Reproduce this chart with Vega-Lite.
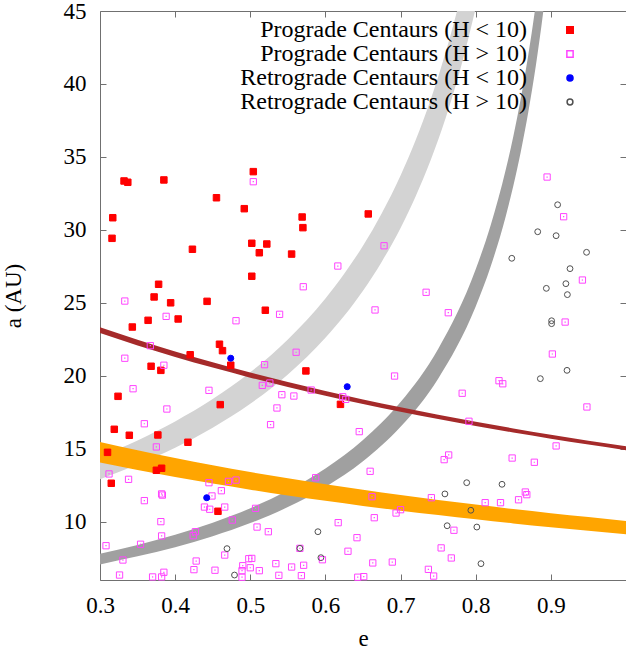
{
  "$schema": "https://vega.github.io/schema/vega-lite/v6.json",
  "autosize": {"type": "none"},
  "width": 526,
  "height": 569,
  "padding": {"left": 100, "top": 11, "right": 0, "bottom": 70},
  "background": "white",
  "config": {
    "view": {"stroke": "#707070", "strokeWidth": 1},
    "font": "Liberation Serif",
    "axis": {
      "labelFont": "Liberation Serif",
      "labelFontSize": 23,
      "labelColor": "black",
      "titleFont": "Liberation Serif",
      "titleFontSize": 23,
      "titleFontWeight": "normal",
      "titleColor": "black",
      "grid": false,
      "domain": false,
      "tickColor": "#707070",
      "tickSize": -6,
      "labelFlush": false
    },
    "legend": {
      "labelFont": "Liberation Serif",
      "labelFontSize": 24,
      "labelColor": "black",
      "labelLimit": 500
    }
  },
  "datasets": {
    "saturn": [
      {"e": 0.3, "lo": 12.91, "hi": 14.46},
      {"e": 0.35, "lo": 13.91, "hi": 15.57},
      {"e": 0.4, "lo": 15.07, "hi": 16.87},
      {"e": 0.45, "lo": 16.44, "hi": 18.4},
      {"e": 0.5, "lo": 18.08, "hi": 20.24},
      {"e": 0.55, "lo": 20.09, "hi": 22.49},
      {"e": 0.6, "lo": 22.6, "hi": 25.3},
      {"e": 0.625, "lo": 24.11, "hi": 26.99},
      {"e": 0.65, "lo": 25.83, "hi": 28.91},
      {"e": 0.675, "lo": 27.82, "hi": 31.14},
      {"e": 0.7, "lo": 30.13, "hi": 33.73},
      {"e": 0.72, "lo": 32.29, "hi": 36.14},
      {"e": 0.74, "lo": 34.77, "hi": 38.92},
      {"e": 0.76, "lo": 37.67, "hi": 42.17},
      {"e": 0.78, "lo": 41.09, "hi": 46.0},
      {"e": 0.8, "lo": 45.2, "hi": 50.6}
    ],
    "jupiter": [
      {"e": 0.3, "lo": 7.07, "hi": 7.8},
      {"e": 0.35, "lo": 7.62, "hi": 8.4},
      {"e": 0.4, "lo": 8.25, "hi": 9.1},
      {"e": 0.45, "lo": 9.0, "hi": 9.93},
      {"e": 0.5, "lo": 9.9, "hi": 10.92},
      {"e": 0.55, "lo": 11.0, "hi": 12.13},
      {"e": 0.6, "lo": 12.38, "hi": 13.65},
      {"e": 0.65, "lo": 14.14, "hi": 15.6},
      {"e": 0.7, "lo": 16.5, "hi": 18.2},
      {"e": 0.75, "lo": 19.8, "hi": 21.84},
      {"e": 0.8, "lo": 24.75, "hi": 27.3},
      {"e": 0.82, "lo": 27.5, "hi": 30.33},
      {"e": 0.84, "lo": 30.94, "hi": 34.13},
      {"e": 0.85, "lo": 33.0, "hi": 36.4},
      {"e": 0.86, "lo": 35.36, "hi": 39.0},
      {"e": 0.87, "lo": 38.08, "hi": 42.0},
      {"e": 0.88, "lo": 41.25, "hi": 45.5},
      {"e": 0.89, "lo": 45.0, "hi": 49.64},
      {"e": 0.9, "lo": 49.5, "hi": 54.6}
    ],
    "uranus": [
      {"e": 0.3, "lo": 14.06, "hi": 15.46},
      {"e": 0.35, "lo": 13.54, "hi": 14.89},
      {"e": 0.4, "lo": 13.06, "hi": 14.36},
      {"e": 0.45, "lo": 12.61, "hi": 13.86},
      {"e": 0.5, "lo": 12.19, "hi": 13.4},
      {"e": 0.55, "lo": 11.79, "hi": 12.97},
      {"e": 0.6, "lo": 11.43, "hi": 12.56},
      {"e": 0.65, "lo": 11.08, "hi": 12.18},
      {"e": 0.7, "lo": 10.75, "hi": 11.82},
      {"e": 0.75, "lo": 10.45, "hi": 11.49},
      {"e": 0.8, "lo": 10.16, "hi": 11.17},
      {"e": 0.85, "lo": 9.88, "hi": 10.86},
      {"e": 0.9, "lo": 9.62, "hi": 10.58},
      {"e": 0.95, "lo": 9.37, "hi": 10.31},
      {"e": 1.0, "lo": 9.14, "hi": 10.05}
    ],
    "neptune": [
      {"e": 0.3, "lo": 22.93, "hi": 23.33},
      {"e": 0.35, "lo": 22.08, "hi": 22.47},
      {"e": 0.4, "lo": 21.29, "hi": 21.66},
      {"e": 0.45, "lo": 20.56, "hi": 20.92},
      {"e": 0.5, "lo": 19.87, "hi": 20.22},
      {"e": 0.55, "lo": 19.23, "hi": 19.57},
      {"e": 0.6, "lo": 18.63, "hi": 18.96},
      {"e": 0.65, "lo": 18.07, "hi": 18.38},
      {"e": 0.7, "lo": 17.54, "hi": 17.84},
      {"e": 0.75, "lo": 17.03, "hi": 17.33},
      {"e": 0.8, "lo": 16.56, "hi": 16.85},
      {"e": 0.85, "lo": 16.11, "hi": 16.39},
      {"e": 0.9, "lo": 15.69, "hi": 15.96},
      {"e": 0.95, "lo": 15.29, "hi": 15.55},
      {"e": 1.0, "lo": 14.9, "hi": 15.17}
    ],
    "points": [
      {"g": "Prograde Centaurs (H < 10)", "e": 0.332, "a": 33.35},
      {"g": "Prograde Centaurs (H < 10)", "e": 0.337, "a": 33.26},
      {"g": "Prograde Centaurs (H < 10)", "e": 0.385, "a": 33.42},
      {"g": "Prograde Centaurs (H < 10)", "e": 0.504, "a": 33.99},
      {"g": "Prograde Centaurs (H < 10)", "e": 0.455, "a": 32.2},
      {"g": "Prograde Centaurs (H < 10)", "e": 0.492, "a": 31.45},
      {"g": "Prograde Centaurs (H < 10)", "e": 0.317, "a": 30.83},
      {"g": "Prograde Centaurs (H < 10)", "e": 0.316, "a": 29.42},
      {"g": "Prograde Centaurs (H < 10)", "e": 0.569, "a": 30.88},
      {"g": "Prograde Centaurs (H < 10)", "e": 0.570, "a": 30.15},
      {"g": "Prograde Centaurs (H < 10)", "e": 0.423, "a": 28.67},
      {"g": "Prograde Centaurs (H < 10)", "e": 0.502, "a": 29.08},
      {"g": "Prograde Centaurs (H < 10)", "e": 0.522, "a": 29.03},
      {"g": "Prograde Centaurs (H < 10)", "e": 0.512, "a": 28.43},
      {"g": "Prograde Centaurs (H < 10)", "e": 0.555, "a": 28.34},
      {"g": "Prograde Centaurs (H < 10)", "e": 0.502, "a": 26.82},
      {"g": "Prograde Centaurs (H < 10)", "e": 0.378, "a": 26.27},
      {"g": "Prograde Centaurs (H < 10)", "e": 0.372, "a": 25.4},
      {"g": "Prograde Centaurs (H < 10)", "e": 0.4425, "a": 25.1},
      {"g": "Prograde Centaurs (H < 10)", "e": 0.657, "a": 31.09},
      {"g": "Prograde Centaurs (H < 10)", "e": 0.394, "a": 25.0},
      {"g": "Prograde Centaurs (H < 10)", "e": 0.520, "a": 24.49},
      {"g": "Prograde Centaurs (H < 10)", "e": 0.343, "a": 23.34},
      {"g": "Prograde Centaurs (H < 10)", "e": 0.364, "a": 23.8},
      {"g": "Prograde Centaurs (H < 10)", "e": 0.404, "a": 23.89},
      {"g": "Prograde Centaurs (H < 10)", "e": 0.459, "a": 22.16},
      {"g": "Prograde Centaurs (H < 10)", "e": 0.463, "a": 21.72},
      {"g": "Prograde Centaurs (H < 10)", "e": 0.420, "a": 21.44},
      {"g": "Prograde Centaurs (H < 10)", "e": 0.474, "a": 20.72},
      {"g": "Prograde Centaurs (H < 10)", "e": 0.368, "a": 20.65},
      {"g": "Prograde Centaurs (H < 10)", "e": 0.381, "a": 20.37},
      {"g": "Prograde Centaurs (H < 10)", "e": 0.574, "a": 20.33},
      {"g": "Prograde Centaurs (H < 10)", "e": 0.324, "a": 18.59},
      {"g": "Prograde Centaurs (H < 10)", "e": 0.460, "a": 18.02},
      {"g": "Prograde Centaurs (H < 10)", "e": 0.319, "a": 16.33},
      {"g": "Prograde Centaurs (H < 10)", "e": 0.339, "a": 15.92},
      {"g": "Prograde Centaurs (H < 10)", "e": 0.377, "a": 15.94},
      {"g": "Prograde Centaurs (H < 10)", "e": 0.417, "a": 15.44},
      {"g": "Prograde Centaurs (H < 10)", "e": 0.310, "a": 14.75},
      {"g": "Prograde Centaurs (H < 10)", "e": 0.375, "a": 13.52},
      {"g": "Prograde Centaurs (H < 10)", "e": 0.382, "a": 13.66},
      {"g": "Prograde Centaurs (H < 10)", "e": 0.315, "a": 12.63},
      {"g": "Prograde Centaurs (H < 10)", "e": 0.457, "a": 10.71},
      {"g": "Prograde Centaurs (H < 10)", "e": 0.620, "a": 18.04},
      {"g": "Prograde Centaurs (H > 10)", "e": 0.504, "a": 33.3},
      {"g": "Prograde Centaurs (H > 10)", "e": 0.5705, "a": 26.1},
      {"g": "Prograde Centaurs (H > 10)", "e": 0.333, "a": 25.12},
      {"g": "Prograde Centaurs (H > 10)", "e": 0.895, "a": 33.62},
      {"g": "Prograde Centaurs (H > 10)", "e": 0.917, "a": 30.9},
      {"g": "Prograde Centaurs (H > 10)", "e": 0.678, "a": 28.91},
      {"g": "Prograde Centaurs (H > 10)", "e": 0.6165, "a": 27.52},
      {"g": "Prograde Centaurs (H > 10)", "e": 0.734, "a": 25.72},
      {"g": "Prograde Centaurs (H > 10)", "e": 0.942, "a": 26.56},
      {"g": "Prograde Centaurs (H > 10)", "e": 0.539, "a": 24.21},
      {"g": "Prograde Centaurs (H > 10)", "e": 0.481, "a": 23.77},
      {"g": "Prograde Centaurs (H > 10)", "e": 0.388, "a": 24.07},
      {"g": "Prograde Centaurs (H > 10)", "e": 0.367, "a": 22.06},
      {"g": "Prograde Centaurs (H > 10)", "e": 0.333, "a": 21.2},
      {"g": "Prograde Centaurs (H > 10)", "e": 0.385, "a": 20.72},
      {"g": "Prograde Centaurs (H > 10)", "e": 0.519, "a": 20.76},
      {"g": "Prograde Centaurs (H > 10)", "e": 0.516, "a": 19.34},
      {"g": "Prograde Centaurs (H > 10)", "e": 0.526, "a": 19.5},
      {"g": "Prograde Centaurs (H > 10)", "e": 0.561, "a": 21.61},
      {"g": "Prograde Centaurs (H > 10)", "e": 0.581, "a": 19.02},
      {"g": "Prograde Centaurs (H > 10)", "e": 0.445, "a": 19.0},
      {"g": "Prograde Centaurs (H > 10)", "e": 0.344, "a": 19.11},
      {"g": "Prograde Centaurs (H > 10)", "e": 0.542, "a": 18.7},
      {"g": "Prograde Centaurs (H > 10)", "e": 0.558, "a": 18.61},
      {"g": "Prograde Centaurs (H > 10)", "e": 0.5355, "a": 17.79},
      {"g": "Prograde Centaurs (H > 10)", "e": 0.389, "a": 17.72},
      {"g": "Prograde Centaurs (H > 10)", "e": 0.527, "a": 16.65},
      {"g": "Prograde Centaurs (H > 10)", "e": 0.359, "a": 16.71},
      {"g": "Prograde Centaurs (H > 10)", "e": 0.375, "a": 15.12},
      {"g": "Prograde Centaurs (H > 10)", "e": 0.312, "a": 13.27},
      {"g": "Prograde Centaurs (H > 10)", "e": 0.338, "a": 12.9},
      {"g": "Prograde Centaurs (H > 10)", "e": 0.445, "a": 12.67},
      {"g": "Prograde Centaurs (H > 10)", "e": 0.471, "a": 12.76},
      {"g": "Prograde Centaurs (H > 10)", "e": 0.481, "a": 12.85},
      {"g": "Prograde Centaurs (H > 10)", "e": 0.4615, "a": 12.12},
      {"g": "Prograde Centaurs (H > 10)", "e": 0.587, "a": 13.01},
      {"g": "Prograde Centaurs (H > 10)", "e": 0.449, "a": 11.76},
      {"g": "Prograde Centaurs (H > 10)", "e": 0.382, "a": 11.9},
      {"g": "Prograde Centaurs (H > 10)", "e": 0.383, "a": 11.82},
      {"g": "Prograde Centaurs (H > 10)", "e": 0.359, "a": 11.44},
      {"g": "Prograde Centaurs (H > 10)", "e": 0.439, "a": 11.0},
      {"g": "Prograde Centaurs (H > 10)", "e": 0.446, "a": 10.85},
      {"g": "Prograde Centaurs (H > 10)", "e": 0.466, "a": 11.0},
      {"g": "Prograde Centaurs (H > 10)", "e": 0.507, "a": 10.91},
      {"g": "Prograde Centaurs (H > 10)", "e": 0.381, "a": 10.0},
      {"g": "Prograde Centaurs (H > 10)", "e": 0.476, "a": 10.11},
      {"g": "Prograde Centaurs (H > 10)", "e": 0.427, "a": 9.31},
      {"g": "Prograde Centaurs (H > 10)", "e": 0.424, "a": 9.04},
      {"g": "Prograde Centaurs (H > 10)", "e": 0.382, "a": 9.02},
      {"g": "Prograde Centaurs (H > 10)", "e": 0.509, "a": 9.63},
      {"g": "Prograde Centaurs (H > 10)", "e": 0.524, "a": 9.31},
      {"g": "Prograde Centaurs (H > 10)", "e": 0.308, "a": 8.35},
      {"g": "Prograde Centaurs (H > 10)", "e": 0.354, "a": 8.45},
      {"g": "Prograde Centaurs (H > 10)", "e": 0.466, "a": 7.71},
      {"g": "Prograde Centaurs (H > 10)", "e": 0.3305, "a": 7.37},
      {"g": "Prograde Centaurs (H > 10)", "e": 0.428, "a": 7.3},
      {"g": "Prograde Centaurs (H > 10)", "e": 0.498, "a": 7.46},
      {"g": "Prograde Centaurs (H > 10)", "e": 0.502, "a": 7.48},
      {"g": "Prograde Centaurs (H > 10)", "e": 0.490, "a": 6.98},
      {"g": "Prograde Centaurs (H > 10)", "e": 0.500, "a": 6.84},
      {"g": "Prograde Centaurs (H > 10)", "e": 0.571, "a": 7.01},
      {"g": "Prograde Centaurs (H > 10)", "e": 0.534, "a": 7.12},
      {"g": "Prograde Centaurs (H > 10)", "e": 0.555, "a": 6.89},
      {"g": "Prograde Centaurs (H > 10)", "e": 0.425, "a": 6.71},
      {"g": "Prograde Centaurs (H > 10)", "e": 0.453, "a": 6.67},
      {"g": "Prograde Centaurs (H > 10)", "e": 0.489, "a": 6.64},
      {"g": "Prograde Centaurs (H > 10)", "e": 0.512, "a": 6.64},
      {"g": "Prograde Centaurs (H > 10)", "e": 0.326, "a": 6.34},
      {"g": "Prograde Centaurs (H > 10)", "e": 0.370, "a": 6.21},
      {"g": "Prograde Centaurs (H > 10)", "e": 0.382, "a": 6.21},
      {"g": "Prograde Centaurs (H > 10)", "e": 0.385, "a": 6.53},
      {"g": "Prograde Centaurs (H > 10)", "e": 0.489, "a": 6.19},
      {"g": "Prograde Centaurs (H > 10)", "e": 0.538, "a": 6.32},
      {"g": "Prograde Centaurs (H > 10)", "e": 0.568, "a": 6.3},
      {"g": "Prograde Centaurs (H > 10)", "e": 0.566, "a": 8.17},
      {"g": "Prograde Centaurs (H > 10)", "e": 0.666, "a": 24.51},
      {"g": "Prograde Centaurs (H > 10)", "e": 0.7635, "a": 24.32},
      {"g": "Prograde Centaurs (H > 10)", "e": 0.919, "a": 23.68},
      {"g": "Prograde Centaurs (H > 10)", "e": 0.902, "a": 21.49},
      {"g": "Prograde Centaurs (H > 10)", "e": 0.692, "a": 19.98},
      {"g": "Prograde Centaurs (H > 10)", "e": 0.831, "a": 19.66},
      {"g": "Prograde Centaurs (H > 10)", "e": 0.836, "a": 19.45},
      {"g": "Prograde Centaurs (H > 10)", "e": 0.782, "a": 18.8},
      {"g": "Prograde Centaurs (H > 10)", "e": 0.623, "a": 18.56},
      {"g": "Prograde Centaurs (H > 10)", "e": 0.627, "a": 18.38},
      {"g": "Prograde Centaurs (H > 10)", "e": 0.791, "a": 16.88},
      {"g": "Prograde Centaurs (H > 10)", "e": 0.948, "a": 17.86},
      {"g": "Prograde Centaurs (H > 10)", "e": 0.645, "a": 16.17},
      {"g": "Prograde Centaurs (H > 10)", "e": 0.907, "a": 15.19},
      {"g": "Prograde Centaurs (H > 10)", "e": 0.764, "a": 14.57},
      {"g": "Prograde Centaurs (H > 10)", "e": 0.758, "a": 14.25},
      {"g": "Prograde Centaurs (H > 10)", "e": 0.8485, "a": 14.36},
      {"g": "Prograde Centaurs (H > 10)", "e": 0.878, "a": 14.07},
      {"g": "Prograde Centaurs (H > 10)", "e": 0.6595, "a": 13.45},
      {"g": "Prograde Centaurs (H > 10)", "e": 0.662, "a": 11.71},
      {"g": "Prograde Centaurs (H > 10)", "e": 0.741, "a": 11.64},
      {"g": "Prograde Centaurs (H > 10)", "e": 0.866, "a": 12.03},
      {"g": "Prograde Centaurs (H > 10)", "e": 0.868, "a": 11.85},
      {"g": "Prograde Centaurs (H > 10)", "e": 0.857, "a": 11.5},
      {"g": "Prograde Centaurs (H > 10)", "e": 0.8126, "a": 11.3},
      {"g": "Prograde Centaurs (H > 10)", "e": 0.833, "a": 11.3},
      {"g": "Prograde Centaurs (H > 10)", "e": 0.700, "a": 10.82},
      {"g": "Prograde Centaurs (H > 10)", "e": 0.694, "a": 10.59},
      {"g": "Prograde Centaurs (H > 10)", "e": 0.665, "a": 10.27},
      {"g": "Prograde Centaurs (H > 10)", "e": 0.617, "a": 9.93},
      {"g": "Prograde Centaurs (H > 10)", "e": 0.771, "a": 9.41},
      {"g": "Prograde Centaurs (H > 10)", "e": 0.642, "a": 8.9},
      {"g": "Prograde Centaurs (H > 10)", "e": 0.754, "a": 8.2},
      {"g": "Prograde Centaurs (H > 10)", "e": 0.630, "a": 7.97},
      {"g": "Prograde Centaurs (H > 10)", "e": 0.7675, "a": 7.51},
      {"g": "Prograde Centaurs (H > 10)", "e": 0.596, "a": 7.39},
      {"g": "Prograde Centaurs (H > 10)", "e": 0.663, "a": 7.17},
      {"g": "Prograde Centaurs (H > 10)", "e": 0.689, "a": 7.23},
      {"g": "Prograde Centaurs (H > 10)", "e": 0.737, "a": 6.73},
      {"g": "Prograde Centaurs (H > 10)", "e": 0.744, "a": 6.27},
      {"g": "Prograde Centaurs (H > 10)", "e": 0.643, "a": 6.19},
      {"g": "Prograde Centaurs (H > 10)", "e": 0.651, "a": 6.23},
      {"g": "Retrograde Centaurs (H < 10)", "e": 0.474, "a": 21.2},
      {"g": "Retrograde Centaurs (H < 10)", "e": 0.442, "a": 11.64},
      {"g": "Retrograde Centaurs (H < 10)", "e": 0.629, "a": 19.25},
      {"g": "Retrograde Centaurs (H > 10)", "e": 0.909, "a": 31.72},
      {"g": "Retrograde Centaurs (H > 10)", "e": 0.8825, "a": 29.87},
      {"g": "Retrograde Centaurs (H > 10)", "e": 0.907, "a": 29.6},
      {"g": "Retrograde Centaurs (H > 10)", "e": 0.9475, "a": 28.46},
      {"g": "Retrograde Centaurs (H > 10)", "e": 0.848, "a": 28.05},
      {"g": "Retrograde Centaurs (H > 10)", "e": 0.9255, "a": 27.34},
      {"g": "Retrograde Centaurs (H > 10)", "e": 0.894, "a": 25.99},
      {"g": "Retrograde Centaurs (H > 10)", "e": 0.920, "a": 26.31},
      {"g": "Retrograde Centaurs (H > 10)", "e": 0.922, "a": 25.56},
      {"g": "Retrograde Centaurs (H > 10)", "e": 0.469, "a": 8.15},
      {"g": "Retrograde Centaurs (H > 10)", "e": 0.479, "a": 6.34},
      {"g": "Retrograde Centaurs (H > 10)", "e": 0.590, "a": 9.31},
      {"g": "Retrograde Centaurs (H > 10)", "e": 0.566, "a": 8.17},
      {"g": "Retrograde Centaurs (H > 10)", "e": 0.901, "a": 23.77},
      {"g": "Retrograde Centaurs (H > 10)", "e": 0.901, "a": 23.57},
      {"g": "Retrograde Centaurs (H > 10)", "e": 0.9215, "a": 20.37},
      {"g": "Retrograde Centaurs (H > 10)", "e": 0.886, "a": 19.8},
      {"g": "Retrograde Centaurs (H > 10)", "e": 0.788, "a": 12.67},
      {"g": "Retrograde Centaurs (H > 10)", "e": 0.835, "a": 12.56},
      {"g": "Retrograde Centaurs (H > 10)", "e": 0.759, "a": 11.9},
      {"g": "Retrograde Centaurs (H > 10)", "e": 0.7935, "a": 10.78},
      {"g": "Retrograde Centaurs (H > 10)", "e": 0.762, "a": 9.72},
      {"g": "Retrograde Centaurs (H > 10)", "e": 0.8015, "a": 9.63},
      {"g": "Retrograde Centaurs (H > 10)", "e": 0.594, "a": 7.53},
      {"g": "Retrograde Centaurs (H > 10)", "e": 0.807, "a": 7.12}
    ]
  },
  "layer": [
    {
      "data": {"name": "saturn"},
      "mark": {"type": "area", "color": "#d3d3d3", "clip": true, "interpolate": "monotone"},
      "encoding": {
        "x": {"field": "e", "type": "quantitative",
              "scale": {"domain": [0.3, 1.0], "nice": false, "zero": false},
              "axis": {"orient": "bottom", "values": [0.3, 0.4, 0.5, 0.6, 0.7, 0.8, 0.9], "format": ".1f", "title": "e",
                       "labelFont": "Liberation Serif", "labelFontSize": 23, "labelColor": "black",
                       "labelFlush": false, "labelPadding": 20, "titlePadding": 10}},
        "y": {"field": "lo", "type": "quantitative",
              "scale": {"domain": [6, 45], "nice": false, "zero": false},
              "axis": {"orient": "left", "values": [10, 15, 20, 25, 30, 35, 40, 45], "title": "a (AU)",
                       "labelFont": "Liberation Serif", "labelFontSize": 23, "labelColor": "black",
                       "labelFlush": false, "labelPadding": 20, "titlePadding": 38}},
        "y2": {"field": "hi"}
      }
    },
    {
      "data": {"name": "jupiter"},
      "mark": {"type": "area", "color": "#a0a0a0", "clip": true, "interpolate": "monotone"},
      "encoding": {
        "x": {"field": "e", "type": "quantitative",
              "axis": {"orient": "top", "values": [0.4, 0.5, 0.6, 0.7, 0.8, 0.9], "labels": false, "title": null}},
        "y": {"field": "lo", "type": "quantitative",
              "axis": {"orient": "right", "values": [10, 15, 20, 25, 30, 35, 40], "labels": false, "title": null}},
        "y2": {"field": "hi"}
      }
    },
    {
      "data": {"name": "uranus"},
      "mark": {"type": "area", "color": "#ffa500", "clip": true, "interpolate": "monotone"},
      "encoding": {
        "x": {"field": "e", "type": "quantitative", "axis": null},
        "y": {"field": "lo", "type": "quantitative", "axis": null},
        "y2": {"field": "hi"}
      }
    },
    {
      "data": {"name": "neptune"},
      "mark": {"type": "area", "color": "#a52a2a", "clip": true, "interpolate": "monotone"},
      "encoding": {
        "x": {"field": "e", "type": "quantitative", "axis": null},
        "y": {"field": "lo", "type": "quantitative", "axis": null},
        "y2": {"field": "hi"}
      }
    },
    {
      "data": {"name": "points"},
      "mark": {"type": "point", "filled": true, "strokeWidth": 1, "opacity": 1, "fillOpacity": 1, "strokeOpacity": 1},
      "encoding": {
        "x": {"field": "e", "type": "quantitative", "axis": null},
        "y": {"field": "a", "type": "quantitative", "axis": null},
        "shape": {"field": "g", "type": "nominal",
                  "scale": {"domain": ["Prograde Centaurs (H < 10)", "Prograde Centaurs (H > 10)", "Retrograde Centaurs (H < 10)", "Retrograde Centaurs (H > 10)"],
                            "range": ["square", "square", "circle", "circle"]},
                  "legend": {"title": null, "orient": "none", "legendX": 458, "legendY": 7, "labelAlign": "right", "labelOffset": -55, "rowPadding": -1.5, "labelLimit": 500, "labelFontSize": 24}},
        "fill": {"field": "g", "type": "nominal",
                 "scale": {"domain": ["Prograde Centaurs (H < 10)", "Prograde Centaurs (H > 10)", "Retrograde Centaurs (H < 10)", "Retrograde Centaurs (H > 10)"],
                           "range": ["#ff0000", "transparent", "#0000ff", "transparent"]},
                 "legend": {"title": null, "orient": "none", "legendX": 458, "legendY": 7, "labelAlign": "right", "labelOffset": -55, "rowPadding": -1.5, "labelLimit": 500, "labelFontSize": 24}},
        "stroke": {"field": "g", "type": "nominal",
                   "scale": {"domain": ["Prograde Centaurs (H < 10)", "Prograde Centaurs (H > 10)", "Retrograde Centaurs (H < 10)", "Retrograde Centaurs (H > 10)"],
                             "range": ["#ff0000", "#ff44ff", "#0000ff", "#505050"]},
                   "legend": {"title": null, "orient": "none", "legendX": 458, "legendY": 7, "labelAlign": "right", "labelOffset": -55, "rowPadding": -1.5, "labelLimit": 500, "labelFontSize": 24}},
        "size": {"field": "g", "type": "nominal",
                 "scale": {"domain": ["Prograde Centaurs (H < 10)", "Prograde Centaurs (H > 10)", "Retrograde Centaurs (H < 10)", "Retrograde Centaurs (H > 10)"],
                           "range": [42, 34, 28, 22]},
                 "legend": {"title": null, "orient": "none", "legendX": 458, "legendY": 7, "labelAlign": "right", "labelOffset": -55, "rowPadding": -1.5, "labelLimit": 500, "labelFontSize": 24}}
      }
    },
    {
      "data": {"name": "points"},
      "transform": [{"filter": "datum.g === 'Prograde Centaurs (H > 10)'"}],
      "mark": {"type": "square", "size": 1.5, "color": "#ff44ff", "opacity": 1},
      "encoding": {
        "x": {"field": "e", "type": "quantitative", "axis": null},
        "y": {"field": "a", "type": "quantitative", "axis": null}
      }
    }
  ],
  "resolve": {"axis": {"x": "independent", "y": "independent"}}
}
